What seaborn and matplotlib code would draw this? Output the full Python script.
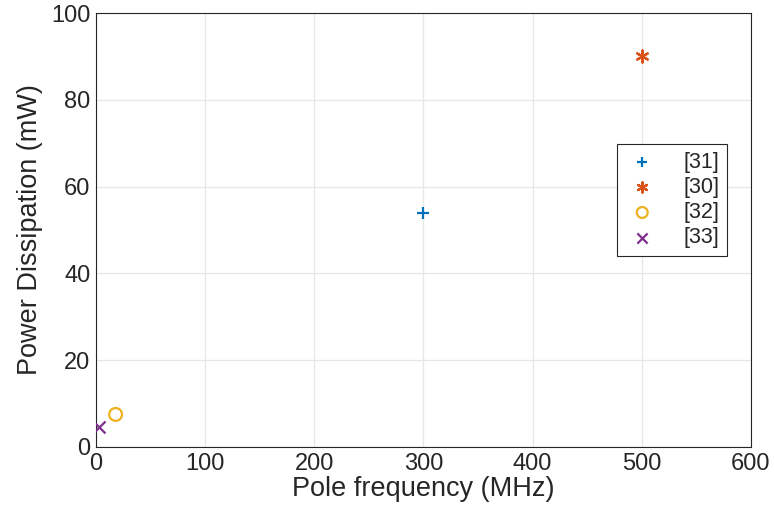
import pandas as pd
import seaborn as sns
import matplotlib.pyplot as plt

# data
refs = ['[31]', '[30]', '[32]', '[33]']
pole_freq = [300, 500, 18, 3]          # MHz
power = [54, 90, 7.5, 4.5]             # mW

colors = ['#0072BD', '#D95319', '#EDB120', '#7E2F8E']
markers = ['+', (6, 2, 0), 'o', 'x']

df = pd.DataFrame({'ref': refs, 'freq': pole_freq, 'power': power})

sns.set_style('whitegrid')
plt.rcParams['font.family'] = ['Liberation Sans', 'DejaVu Sans']

fig = plt.figure(figsize=(7.74, 5.25), dpi=100)
ax = fig.add_axes([0.124, 0.1486, 0.846, 0.8266])

for r, c, m in zip(refs, colors, markers):
    sub = df[df['ref'] == r]
    filled = m != 'o'
    sns.scatterplot(data=sub, x='freq', y='power', ax=ax, label=r,
                    marker=m, s=75 if filled else 85,
                    color=c if filled else 'none',
                    edgecolor=c, linewidth=1.6, zorder=3)

ax.set_xlim(0, 600)
ax.set_ylim(0, 100)
ax.set_xticks(range(0, 601, 100))
ax.set_yticks(range(0, 101, 20))
ax.set_xlabel('Pole frequency (MHz)', fontsize=19.5, color='#262626', labelpad=1)
ax.set_ylabel('Power Dissipation (mW)', fontsize=19.5, color='#262626', labelpad=6)
ax.tick_params(labelsize=17, colors='#262626', length=0, pad=4)
ax.grid(True, color='#e6e6e6', linewidth=0.9)
for sp in ax.spines.values():
    sp.set_visible(True)
    sp.set_color('#262626')
    sp.set_linewidth(0.8)

leg = ax.legend(loc='upper left', bbox_to_anchor=(0.78, 0.723), fontsize=15.5,
                frameon=True, fancybox=False, edgecolor='#262626',
                handletextpad=1.1, handlelength=1.6, borderpad=0.35,
                labelspacing=0.2, markerscale=0.85, framealpha=1)
leg.get_frame().set_linewidth(0.8)

fig.savefig('out.png', dpi=100)
